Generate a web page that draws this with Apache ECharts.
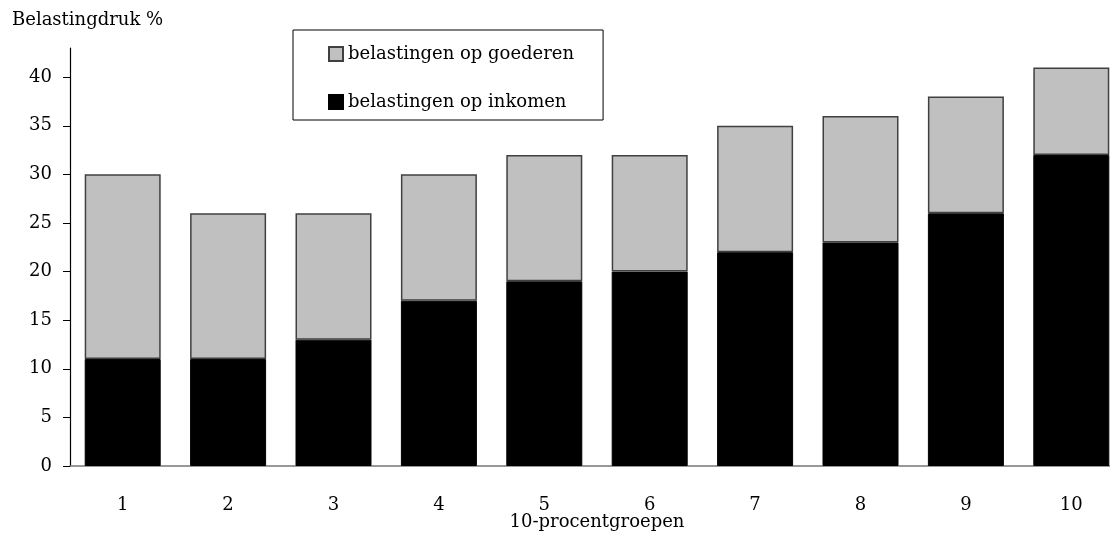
<!DOCTYPE html>
<html>
<head>
<meta charset="utf-8">
<script src="https://cdn.jsdelivr.net/npm/echarts@6/dist/echarts.min.js"></script>
<style>
  html, body { margin: 0; padding: 0; background: #fff; }
  #chart { width: 1110px; height: 535px; }
</style>
</head>
<body>
<div id="chart"></div>
<script>
// Tax burden per income decile (10-procentgroepen), stacked by tax type
const categories = ['1', '2', '3', '4', '5', '6', '7', '8', '9', '10'];
const inkomen = [11, 11, 13, 17, 19, 20, 22, 23, 26, 32];
const goederen = [19, 15, 13, 13, 13, 12, 13, 13, 12, 9];
const yTicks = [0, 5, 10, 15, 20, 25, 30, 35, 40];

const FONT = 'DejaVu Serif';
const chart = echarts.init(document.getElementById('chart'), null, { renderer: 'canvas' });

chart.setOption({
  animation: false,
  backgroundColor: '#ffffff',
  textStyle: { fontFamily: FONT, color: '#000' },
  title: {
    text: 'Belastingdruk %',
    left: 12,
    top: 11,
    padding: 0,
    textStyle: { fontFamily: FONT, fontSize: 18, fontWeight: 'normal', color: '#000' }
  },
  legend: {
    orient: 'vertical',
    left: 293,
    top: 30,
    data: ['belastingen op goederen', 'belastingen op inkomen'],
    icon: 'rect',
    itemWidth: 14,
    itemHeight: 14,
    itemGap: 30,
    padding: [15, 29, 9, 35],
    borderColor: '#000',
    borderWidth: 1,
    backgroundColor: '#fff',
    textStyle: { fontFamily: FONT, fontSize: 18, color: '#000', lineHeight: 18 }
  },
  grid: {
    left: 70, top: 48, width: 1054, bottom: 69,
    containLabel: false,
    outerBoundsMode: 'none'
  },
  xAxis: {
    type: 'category',
    data: categories,
    name: '10-procentgroepen',
    nameLocation: 'middle',
    nameGap: 47,
    nameMoveOverlap: false,
    nameTextStyle: { fontFamily: FONT, fontSize: 18, color: '#000' },
    axisLine: { show: true, lineStyle: { color: '#777', width: 1.5 } },
    axisTick: { show: false },
    axisLabel: { fontFamily: FONT, fontSize: 18, color: '#000', margin: 30 },
    splitLine: { show: false }
  },
  yAxis: {
    type: 'value',
    min: 0,
    max: 43,
    interval: 5,
    axisLine: { show: true, lineStyle: { color: '#000', width: 1.2 } },
    axisTick: { show: true, length: 7, lineStyle: { color: '#000' }, customValues: yTicks },
    axisLabel: { fontFamily: FONT, fontSize: 18, color: '#000', margin: 18, customValues: yTicks },
    splitLine: { show: false }
  },
  series: [
    {
      name: 'belastingen op inkomen',
      type: 'bar',
      stack: 'totaal',
      barWidth: 76,
      data: inkomen,
      itemStyle: { color: '#000000', borderColor: '#000000', borderWidth: 1 }
    },
    {
      name: 'belastingen op goederen',
      type: 'bar',
      stack: 'totaal',
      barWidth: 76,
      data: goederen,
      itemStyle: { color: '#c0c0c0', borderColor: '#404040', borderWidth: 1.5 }
    }
  ]
});
</script>
</body>
</html>
